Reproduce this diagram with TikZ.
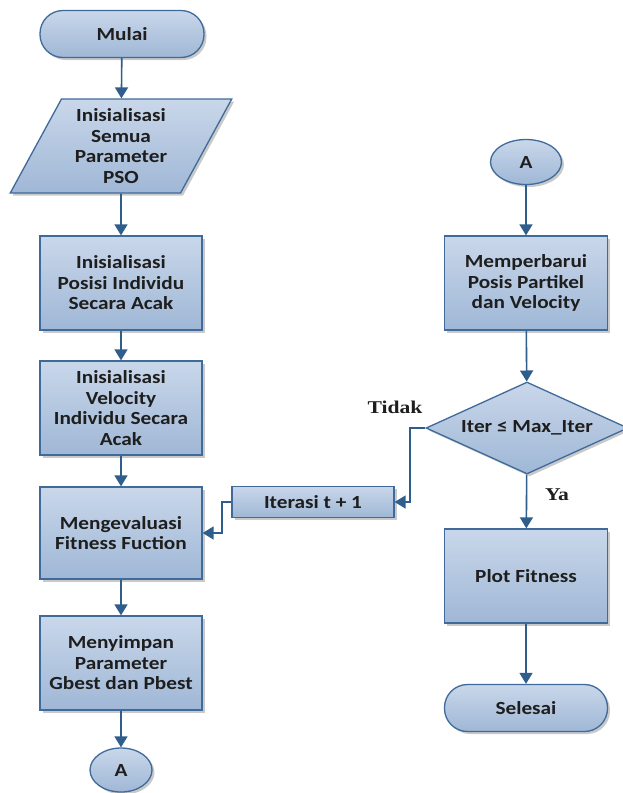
\documentclass[tikz,border=0pt]{standalone}
\usepackage{fontspec}
\setmainfont{Carlito}[FakeStretch=1.15]
\newfontfamily\lblfont{Liberation Serif}[FakeStretch=1.2]
\usetikzlibrary{shapes.geometric,arrows.meta,shadows}
\definecolor{bord}{HTML}{3F6A99}
\definecolor{arrc}{HTML}{2F5D8C}
\definecolor{ftop}{HTML}{C9D7EA}
\definecolor{fbot}{HTML}{9FB7D6}
\definecolor{txt}{HTML}{1E1E1E}
\tikzset{
  base/.style={draw=bord, line width=1.3pt, top color=ftop, bottom color=fbot,
    text=txt, font=\fontsize{18.5}{20.5}\selectfont\bfseries, align=center, inner sep=0pt,
    drop shadow={shadow xshift=2.5pt, shadow yshift=-2.5pt, fill=black!35, opacity=0.6}},
  proc/.style={base, rectangle, minimum width=162pt, minimum height=94pt},
  term/.style={base, rectangle, rounded corners=23pt, minimum width=164pt, minimum height=47pt},
  conn/.style={base, ellipse, minimum width=62pt, minimum height=44pt},
  para/.style={base, trapezium, trapezium left angle=62, trapezium right angle=118,
    trapezium stretches=true, minimum width=222pt, minimum height=94pt},
  dec/.style={base, diamond, aspect=2.2, minimum width=202pt, minimum height=92pt},
  arr/.style={draw=arrc, line width=1.6pt, -{Triangle[width=13pt,length=11pt]}},
  lbl/.style={font=\lblfont\fontsize{18}{20}\selectfont\bfseries, text=txt}
}
\begin{document}
\begin{tikzpicture}[x=1pt,y=-1pt]
\useasboundingbox[fill=white] (0,0) rectangle (623,793);
\node[term] (mulai) at (122,34) {Mulai};
\node[para] (init) at (121,146) {Inisialisasi\\Semua\\Parameter\\PSO};
\node[proc] (pos) at (121,283) {Inisialisasi\\Posisi Individu\\Secara Acak};
\node[proc] (vel) at (121,408) {Inisialisasi\\Velocity\\Individu Secara\\Acak};
\node[proc, minimum height=92pt] (eval) at (121,533) {Mengevaluasi\\Fitness Fuction};
\node[proc] (simpan) at (121,663) {Menyimpan\\Parameter\\Gbest dan Pbest};
\node[conn] (a1) at (121,770) {A};
\node[conn, minimum width=71pt, minimum height=45pt] (a2) at (526,162) {A};
\node[proc, minimum width=163pt] (upd) at (526,283) {Memperbarui\\Posis Partikel\\dan Velocity};
\node[dec] (dec) at (527,428) {Iter ≤ Max\_Iter};
\node[proc, minimum height=31pt] (iter) at (313,502) {Iterasi t + 1};
\node[proc, minimum width=163pt] (plot) at (526,576) {Plot Fitness};
\node[term, minimum width=163pt] (selesai) at (526,708) {Selesai};
\node[lbl] (tidak) at (395,407) {Tidak};
\node[lbl] (ya) at (557,495) {Ya};
\coordinate (k1) at (410,428);
\coordinate (k2) at (222,502);
\draw[arr] (mulai) -- (init);
\draw[arr] (init) -- (pos);
\draw[arr] (pos) -- (vel);
\draw[arr] (vel) -- (eval);
\draw[arr] (eval) -- (simpan);
\draw[arr] (simpan) -- (a1);
\draw[arr] (a2) -- (upd);
\draw[arr] (upd) -- (dec);
\draw[arr] (dec) -- (plot);
\draw[arr] (plot) -- (selesai);
\draw[arr] (dec.west) -- (k1) |- (iter.east);
\draw[arr] (iter.west) -- (k2) |- (eval.east);
\end{tikzpicture}
\end{document}
